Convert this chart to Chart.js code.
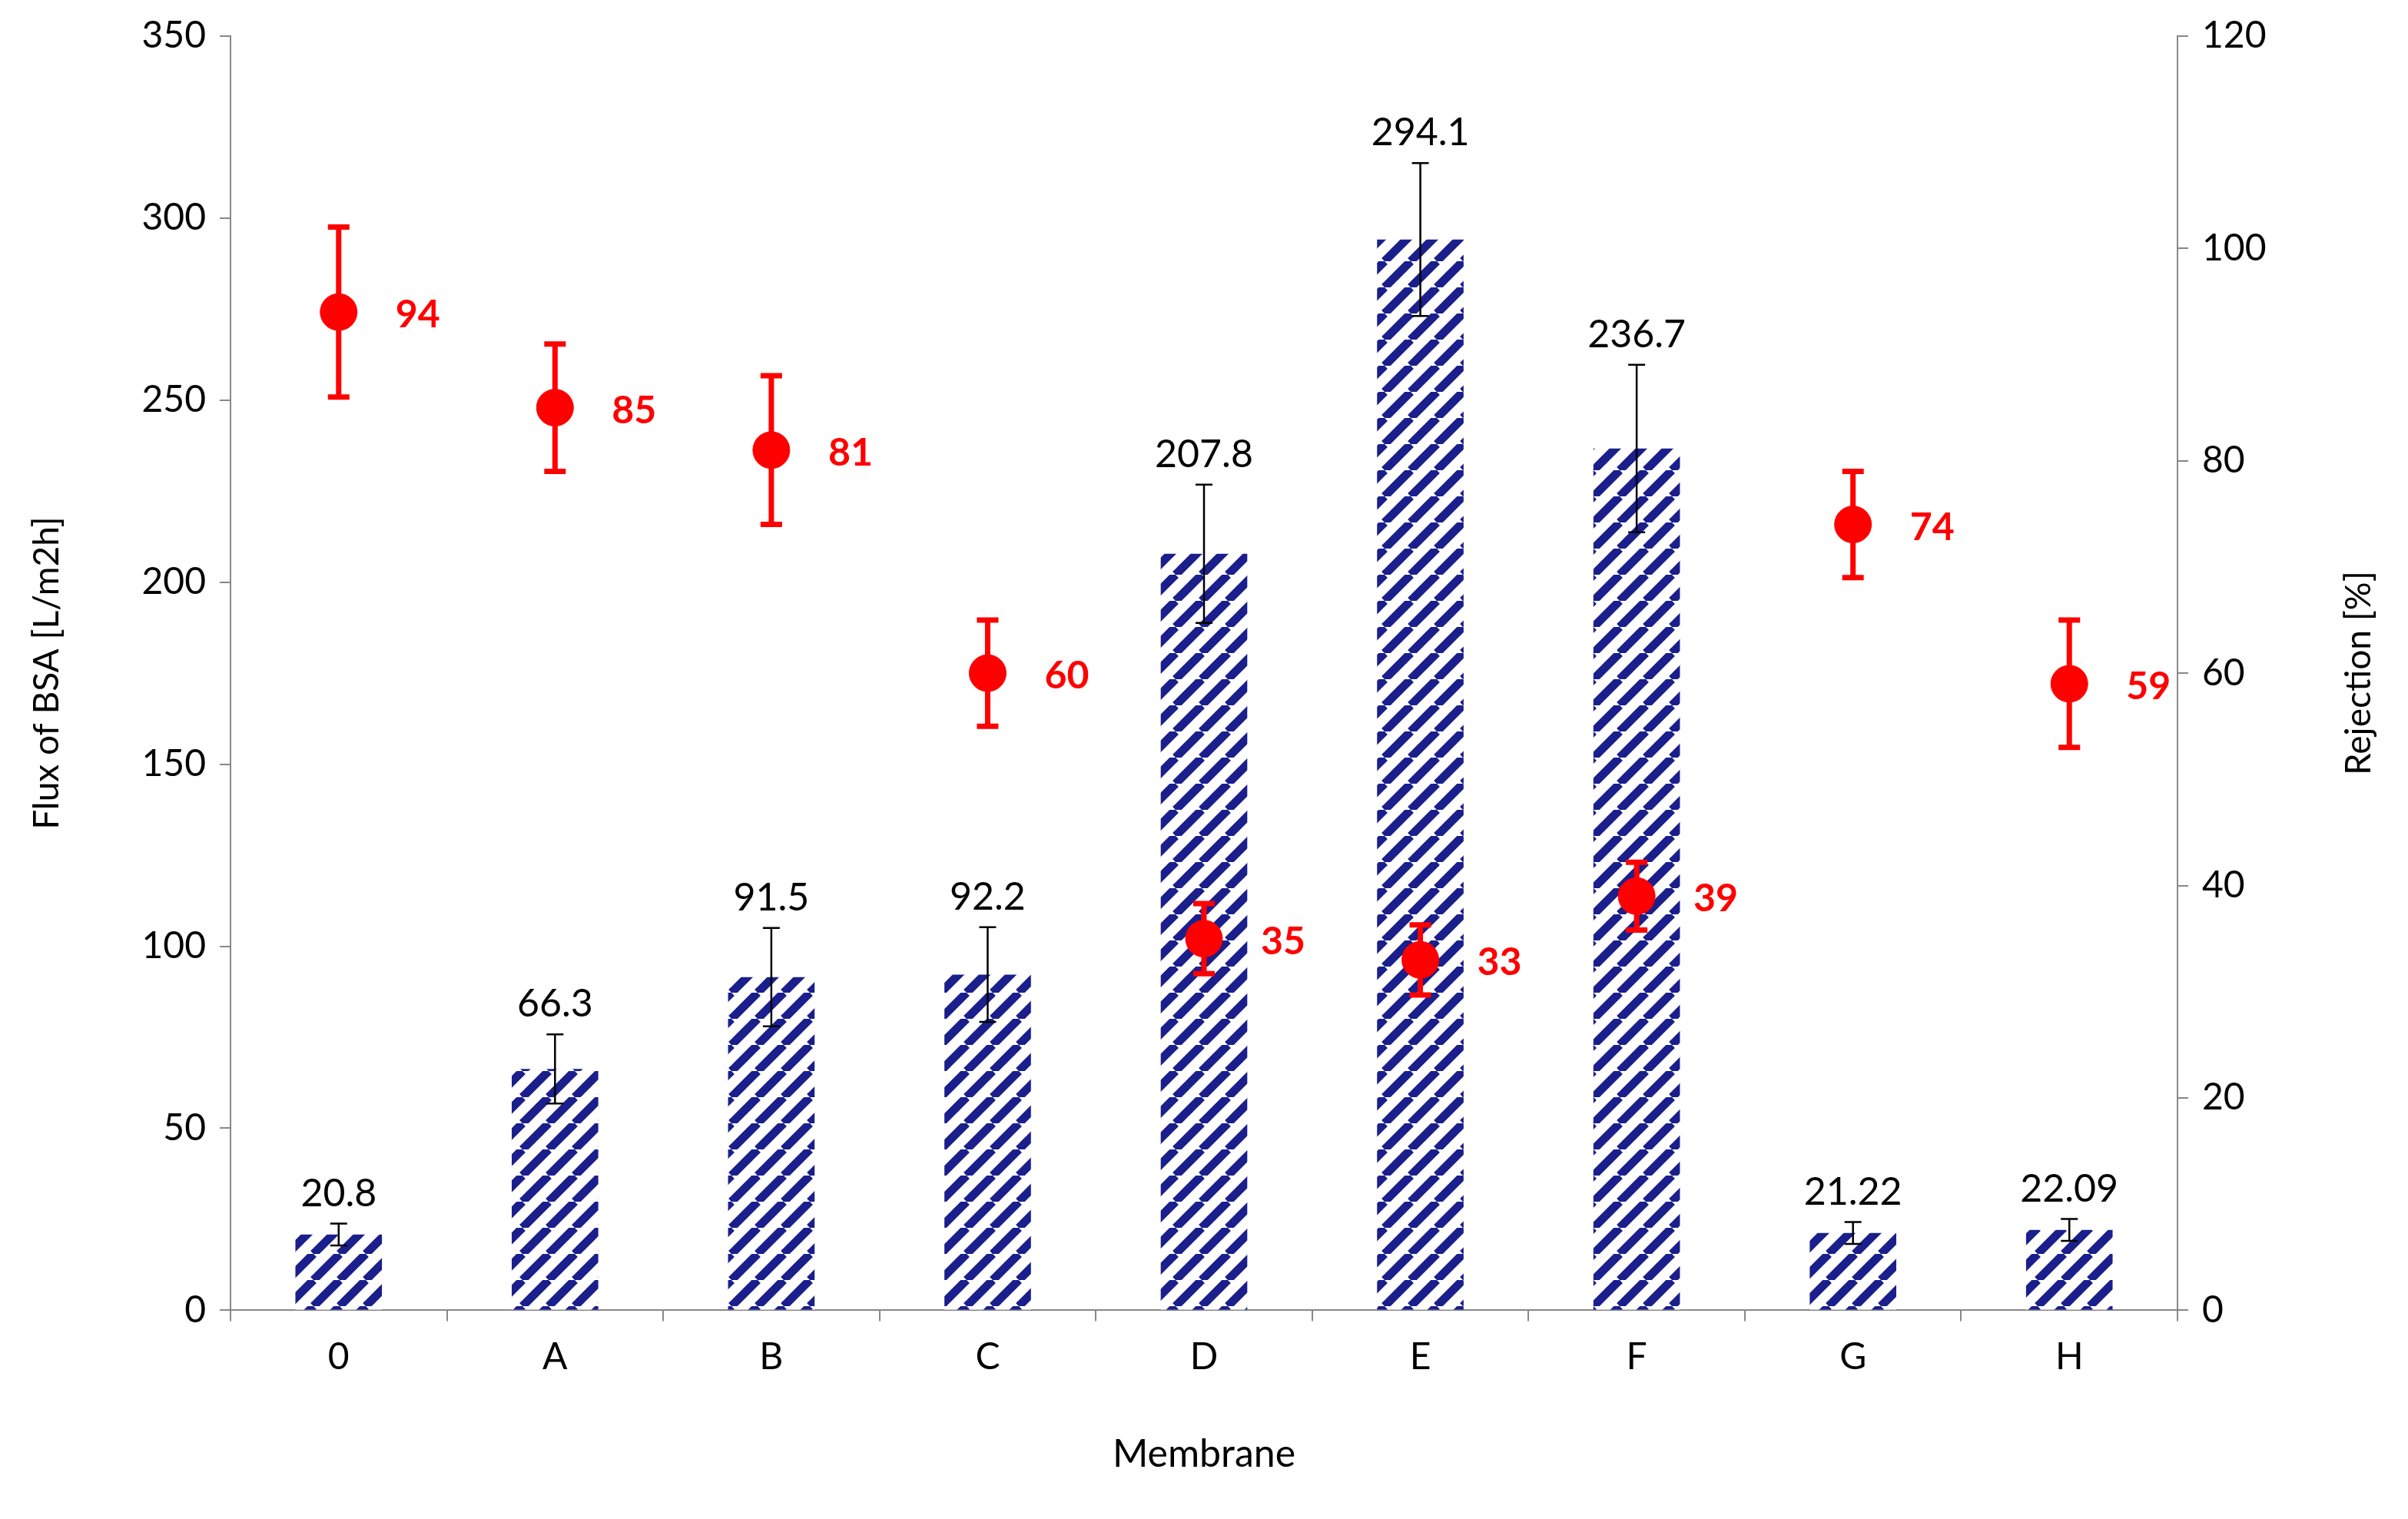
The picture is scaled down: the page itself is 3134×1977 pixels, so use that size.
<!DOCTYPE html>
<html><head><meta charset="utf-8">
<script src="https://cdn.jsdelivr.net/npm/chart.js@4"></script>
<style>html,body{margin:0;padding:0;background:#fff}#w{width:3134px;height:1977px}</style>
</head><body><div id="w"><canvas id="c"></canvas></div>
<script>
const categories = ['0','A','B','C','D','E','F','G','H'];
const fluxValues = [20.8, 66.3, 91.5, 92.2, 207.8, 294.1, 236.7, 21.22, 22.09];
const fluxLabels = ['20.8','66.3','91.5','92.2','207.8','294.1','236.7','21.22','22.09'];
const fluxErrors = [3, 9.5, 13.5, 13, 19, 21, 23, 3, 3];
const rejectionValues = [94, 85, 81, 60, 35, 33, 39, 74, 59];
const rejectionErrors = [8, 6, 7, 5, 3.3, 3.3, 3.2, 5, 6];

const FONT = "Lato, 'Open Sans', sans-serif";
function hatch(){
  const s = 34, p = document.createElement('canvas'); p.width = s; p.height = s;
  const g = p.getContext('2d');
  g.fillStyle = '#fff'; g.fillRect(0,0,s,s);
  g.strokeStyle = '#1a1f8c'; g.lineWidth = 11;
  for (let k=-1;k<=1;k++){ g.beginPath(); g.moveTo(k*s, s); g.lineTo(k*s+s, 0); g.stroke(); }
  return document.getElementById('c').getContext('2d').createPattern(p,'repeat');
}

const extras = {
  id:'extras',
  afterDatasetsDraw(chart){
    const ctx = chart.ctx, x = chart.scales.x, y = chart.scales.y, y2 = chart.scales.y2;
    ctx.save();
    const m0 = chart.getDatasetMeta(0);
    ctx.strokeStyle = '#000'; ctx.lineWidth = 2.5;
    fluxValues.forEach((v,i)=>{
      const px = m0.data[i].x, t = y.getPixelForValue(v+fluxErrors[i]), b = y.getPixelForValue(v-fluxErrors[i]);
      ctx.beginPath(); ctx.moveTo(px,t); ctx.lineTo(px,b);
      ctx.moveTo(px-11,t); ctx.lineTo(px+11,t); ctx.moveTo(px-11,b); ctx.lineTo(px+11,b); ctx.stroke();
      ctx.fillStyle = '#000'; ctx.font = '50px '+FONT; ctx.textAlign='center'; ctx.textBaseline='bottom';
      ctx.fillText(fluxLabels[i], px, Math.min(t, y.getPixelForValue(v)) - 14);
    });
    const m1 = chart.getDatasetMeta(1);
    ctx.strokeStyle = '#ff0000'; ctx.lineWidth = 7;
    rejectionValues.forEach((v,i)=>{
      const px = m1.data[i].x, py = m1.data[i].y, t = y2.getPixelForValue(v+rejectionErrors[i]), b = y2.getPixelForValue(v-rejectionErrors[i]);
      ctx.beginPath(); ctx.moveTo(px,t); ctx.lineTo(px,b);
      ctx.moveTo(px-14,t); ctx.lineTo(px+14,t); ctx.moveTo(px-14,b); ctx.lineTo(px+14,b); ctx.stroke();
      ctx.fillStyle = '#ff0000'; ctx.font = 'bold 50px '+FONT; ctx.textAlign='left'; ctx.textBaseline='middle';
      ctx.fillText(String(v), px+74, py+4);
    });
    // right axis title, reading bottom to top
    ctx.fillStyle = '#000'; ctx.font = '46px '+FONT; ctx.textAlign='center'; ctx.textBaseline='middle';
    ctx.translate(3070, (chart.chartArea.top+chart.chartArea.bottom)/2); ctx.rotate(-Math.PI/2);
    ctx.fillText('Rejection [%]', 0, 0);
    ctx.restore();
  }
};

new Chart(document.getElementById('c'), {
  data:{ labels:categories, datasets:[
    {type:'bar', data:fluxValues, yAxisID:'y', backgroundColor:hatch(), barPercentage:0.4, categoryPercentage:1, order:2},
    {type:'line', data:rejectionValues, yAxisID:'y2', showLine:false, pointRadius:24, pointBackgroundColor:'#ff0000', pointBorderColor:'#ff0000', order:1}
  ]},
  options:{
    responsive:true, maintainAspectRatio:false, animation:false,
    layout:{padding:{left:30,right:130,top:40,bottom:50}},
    plugins:{legend:{display:false}, tooltip:{enabled:false}},
    scales:{
      x:{offset:true, grid:{display:true, offset:true, drawOnChartArea:false, tickLength:14, color:'#888', lineWidth:2},
         border:{color:'#888', width:2},
         ticks:{color:'#000', font:{size:48, family:FONT}, padding:18},
         title:{display:true, text:'Membrane', color:'#000', font:{size:50, family:FONT}, padding:{top:50}}},
      y:{position:'left', min:0, max:350, afterFit(s){s.width=270;}, ticks:{stepSize:50, color:'#000', font:{size:48, family:FONT}, padding:18},
         grid:{drawOnChartArea:false, tickLength:14, color:'#888', lineWidth:2}, border:{color:'#888', width:2},
         title:{display:true, text:'Flux of BSA [L/m2h]', color:'#000', font:{size:46, family:FONT}, padding:{bottom:20}}},
      y2:{position:'right', min:0, max:120, afterFit(s){s.width=170;}, ticks:{stepSize:20, color:'#000', font:{size:48, family:FONT}, padding:18},
         grid:{drawOnChartArea:false, tickLength:14, color:'#888', lineWidth:2}, border:{color:'#888', width:2}}
    }
  },
  plugins:[extras]
});
</script></body></html>
